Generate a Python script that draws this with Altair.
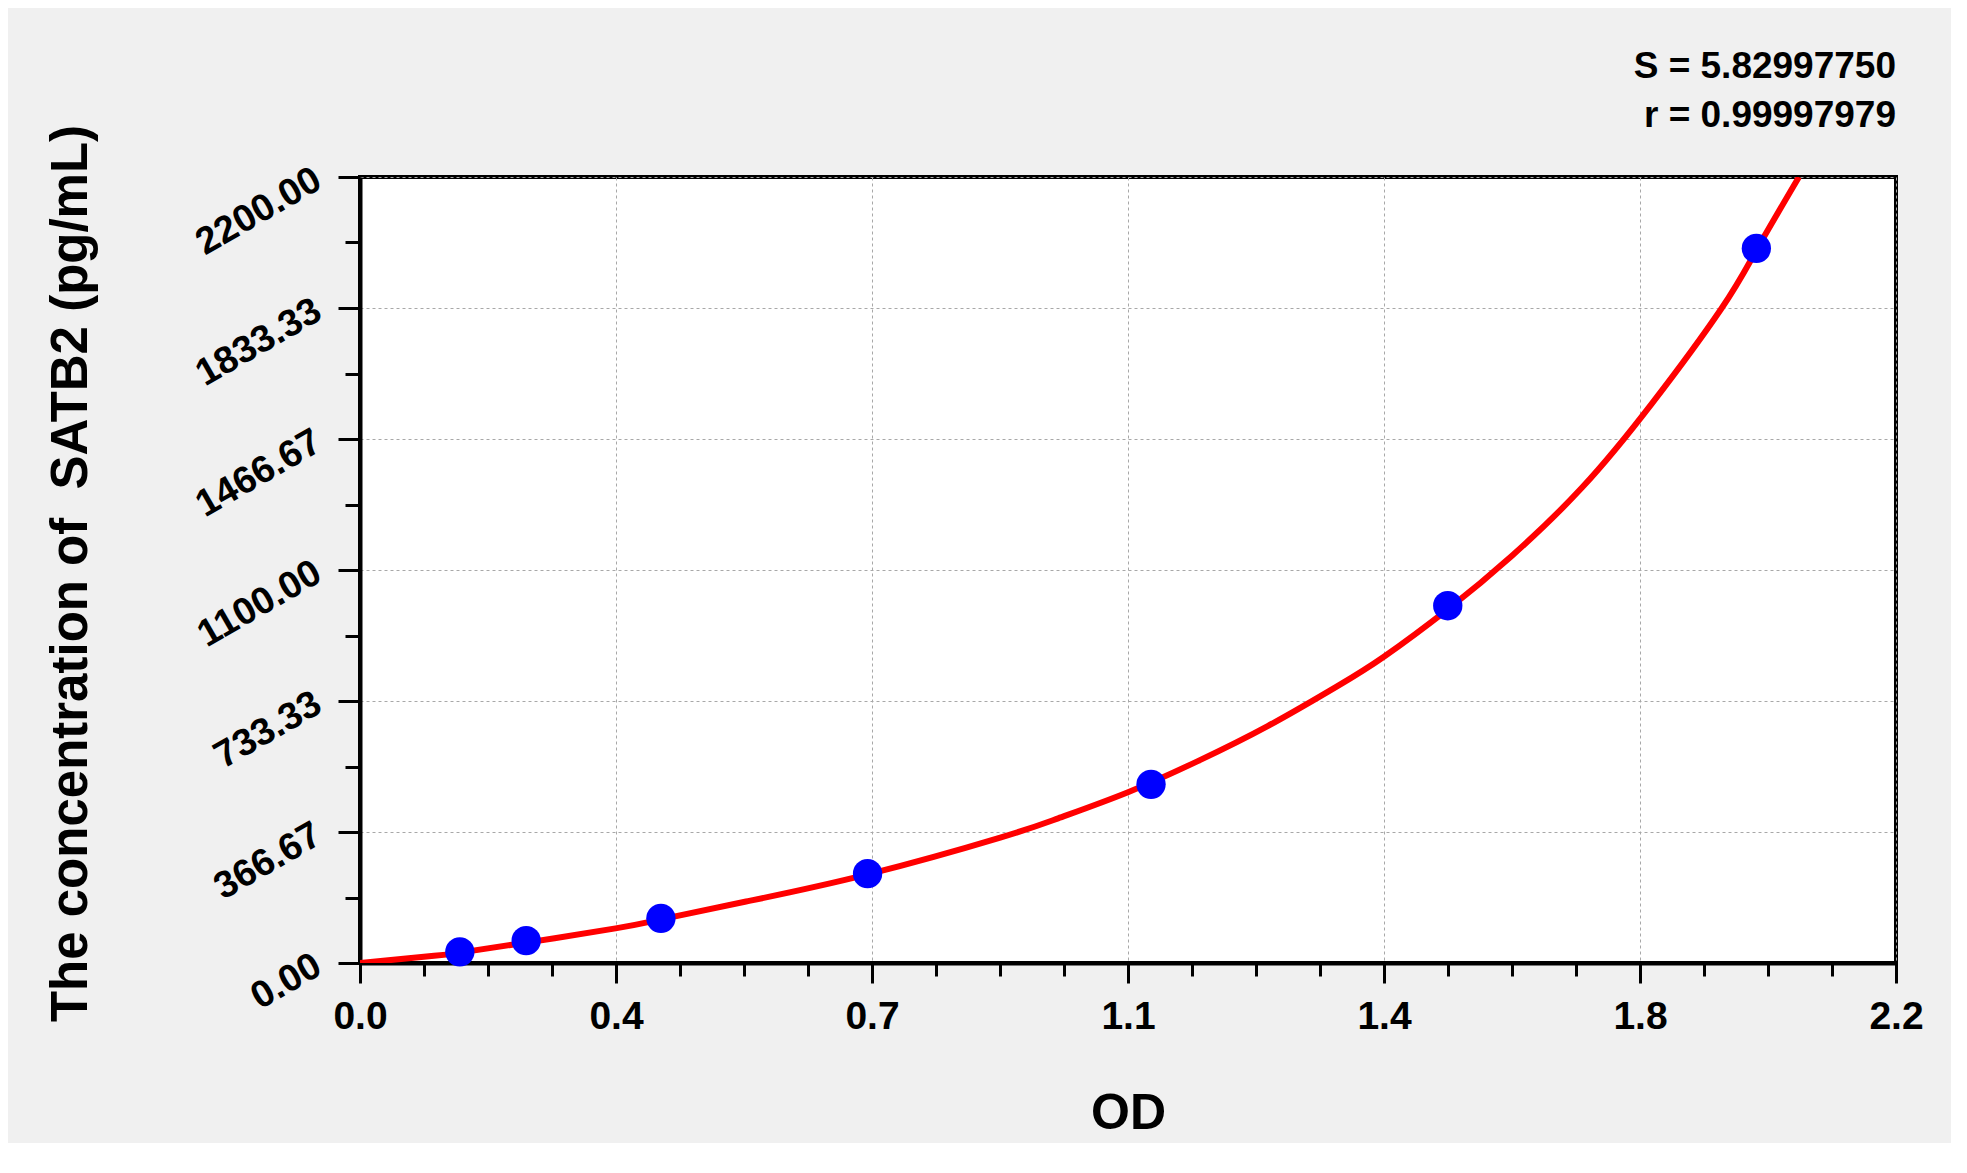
import altair as alt
import pandas as pd

# Standard points
std_od = [0.143, 0.238, 0.431, 0.727, 1.133, 1.558, 2.0]
std_conc = [31.25, 62.5, 125, 250, 500, 1000, 2000]

# Fitted curve
curve_od = [0.0, 0.106, 0.143, 0.238, 0.366, 0.431, 0.553, 0.727, 0.917, 1.0,
            1.1, 1.2, 1.3, 1.4, 1.467, 1.558, 1.65, 1.75, 1.85, 1.95,
            2.0, 2.061]
curve_conc = [0, 20, 29, 57, 97, 122, 172, 248, 351, 405,
              478, 565, 663, 775, 858, 990, 1140, 1330, 1565, 1832,
              1995, 2200]

x_tick_labels = ["0.0", "0.4", "0.7", "1.1", "1.4", "1.8", "2.2"]
y_tick_labels = ["0.00", "366.67", "733.33", "1100.00", "1466.67", "1833.33", "2200.00"]
stats_lines = ["S = 5.82997750", "r = 0.99997979"]

X_MAX = 2.2
Y_MAX = 2200.0
x_ticks = [X_MAX * i / 24 for i in range(25)]
y_ticks = [Y_MAX * i / 24 for i in range(25)]

W, H = 1536, 786
FONT = "Liberation Sans"

x_idx = "datum.value*6/2.2"
y_idx = "datum.value*6/2200"
x_major = f"abs({x_idx} - round({x_idx})) < 0.001"
y_major = f"abs({y_idx} - round({y_idx})) < 0.001"

x_axis = alt.Axis(
    values=x_ticks,
    labelExpr=f"{x_major} ? {x_tick_labels}[round({x_idx})] : ''",
    tickSize={"condition": {"test": x_major, "value": 20}, "value": 13},
    gridOpacity={"condition": {"test": x_major, "value": 1}, "value": 0},
    grid=True, gridColor="#a8a8a8", gridDash=[3, 3], gridWidth=1,
    tickColor="black", tickWidth=3,
    domainColor="black", domainWidth=4,
    labelFont=FONT, labelFontSize=39, labelFontWeight="bold", labelColor="black",
    labelPadding=14, labelFlush=False, labelOverlap=False,
    title="OD", titleFont=FONT, titleFontSize=50, titleFontWeight="bold",
    titleColor="black", titleX=W / 2, titleY=150, titleAlign="center",
    titleBaseline="middle",
)

y_axis = alt.Axis(
    values=y_ticks,
    labelExpr=f"{y_major} ? {y_tick_labels}[round({y_idx})] : ''",
    tickSize={"condition": {"test": y_major, "value": 22}, "value": 15},
    gridOpacity={"condition": {"test": y_major, "value": 1}, "value": 0},
    grid=True, gridColor="#a8a8a8", gridDash=[3, 3], gridWidth=1,
    tickColor="black", tickWidth=3,
    domainColor="black", domainWidth=4,
    labelFont=FONT, labelFontSize=38, labelFontWeight="bold", labelColor="black",
    labelAngle=330, labelAlign="right", labelBaseline="middle",
    labelPadding=20, labelFlush=False, labelOverlap=False,
    title="The concentration of \u00a0SATB2 (pg/mL)", titleFont=FONT, titleFontSize=51,
    titleFontWeight="bold", titleColor="black", titleAngle=270,
    titleX=-289, titleY=H / 2 + 3, titleAlign="center", titleBaseline="middle",
)

xs = alt.Scale(domain=[0, X_MAX], nice=False, zero=False)
ys = alt.Scale(domain=[0, Y_MAX], nice=False, zero=False)

curve_df = pd.DataFrame({"od": curve_od, "conc": curve_conc})
pts_df = pd.DataFrame({"od": std_od, "conc": std_conc})

line = alt.Chart(curve_df).mark_line(
    color="#ff0000", strokeWidth=6, interpolate="natural", clip=True
).encode(
    x=alt.X("od:Q", scale=xs, axis=x_axis),
    y=alt.Y("conc:Q", scale=ys, axis=y_axis),
)

points = alt.Chart(pts_df).mark_point(
    filled=True, color="#0000ff", size=860, opacity=1, shape="circle"
).encode(
    x=alt.X("od:Q", scale=xs),
    y=alt.Y("conc:Q", scale=ys),
)

t1 = alt.Chart(pd.DataFrame({"t": [stats_lines[0]]})).mark_text(
    font=FONT, fontSize=37, fontWeight="bold", color="black",
    align="right", baseline="middle"
).encode(text="t:N", x=alt.value(W), y=alt.value(-110))

t2 = alt.Chart(pd.DataFrame({"t": [stats_lines[1]]})).mark_text(
    font=FONT, fontSize=37, fontWeight="bold", color="black",
    align="right", baseline="middle"
).encode(text="t:N", x=alt.value(W), y=alt.value(-61))

chart = alt.layer(line, points, t1, t2).properties(
    width=W, height=H,
    autosize=alt.AutoSizeParams(type="none"),
    padding={"left": 352, "top": 169, "right": 55, "bottom": 180},
    background="#f0f0f0",
).configure_view(
    fill="white", stroke="black", strokeWidth=4
)

chart.save("out.html", embed_options={"renderer": "svg", "actions": False})
